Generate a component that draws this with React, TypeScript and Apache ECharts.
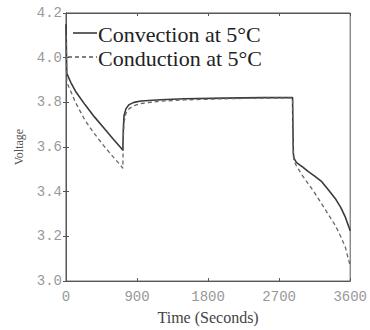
import React, { useEffect, useRef } from "react";
import * as echarts from "echarts";

const convectionTime = [0, 10, 60, 120, 240, 360, 480, 600, 700, 720, 726, 735, 760, 800, 860, 950, 1200, 1500, 2000, 2500, 2870, 2874, 2880, 2890, 2920, 3000, 3070, 3150, 3240, 3320, 3410, 3480, 3540, 3600];
const convectionVolt = [4.15, 3.93, 3.89, 3.85, 3.79, 3.735, 3.685, 3.635, 3.595, 3.585, 3.68, 3.74, 3.772, 3.79, 3.8, 3.806, 3.812, 3.816, 3.819, 3.821, 3.822, 3.7, 3.57, 3.548, 3.53, 3.51, 3.49, 3.47, 3.445, 3.41, 3.37, 3.33, 3.285, 3.225];

const conductionTime = [0, 10, 60, 120, 240, 360, 480, 600, 700, 720, 726, 735, 760, 800, 860, 950, 1200, 1500, 2000, 2500, 2870, 2874, 2880, 2890, 2920, 3000, 3070, 3150, 3240, 3320, 3410, 3480, 3540, 3575, 3600];
const conductionVolt = [4.1, 3.89, 3.85, 3.8, 3.72, 3.66, 3.605, 3.555, 3.515, 3.505, 3.64, 3.71, 3.752, 3.772, 3.785, 3.795, 3.805, 3.811, 3.816, 3.819, 3.82, 3.7, 3.56, 3.535, 3.515, 3.47, 3.435, 3.395, 3.345, 3.3, 3.25, 3.2, 3.15, 3.1, 3.07];

const xTicks = [0, 900, 1800, 2700, 3600];
const legendNames = ["Convection at 5°C", "Conduction at 5°C"];

const zip = (a: number[], b: number[]) => a.map((t, i) => [t, b[i]]);

export default function App() {
  const ref = useRef<HTMLDivElement>(null);
  useEffect(() => {
    if (!ref.current) return;
    const chart = echarts.init(ref.current, null, { renderer: "svg" });
    const axisColor = "#555";
    const labelStyle = { color: "#999", fontFamily: "Liberation Mono", fontSize: 14 };
    chart.setOption({
      animation: false,
      backgroundColor: "#fff",
      grid: { left: 66, right: 18, top: 13, bottom: 40, show: true, borderColor: axisColor, borderWidth: 1 },
      xAxis: [
        {
          type: "value", min: xTicks[0], max: xTicks[xTicks.length - 1], interval: 900,
          axisLine: { lineStyle: { color: axisColor } },
          axisTick: { inside: true, length: 3, lineStyle: { color: axisColor } },
          axisLabel: { ...labelStyle, margin: 9, formatter: (v: number) => String(v) },
          splitLine: { show: false },
          name: "Time (Seconds)", nameLocation: "middle", nameGap: 26,
          nameTextStyle: { color: "#444", fontFamily: "Liberation Serif", fontSize: 16 },
        },
        {
          type: "value", position: "top", min: 0, max: 3600, interval: 900,
          axisLine: { lineStyle: { color: axisColor } },
          axisTick: { inside: true, length: 3, lineStyle: { color: axisColor } },
          axisLabel: { show: false }, splitLine: { show: false },
        },
      ],
      yAxis: [
        {
          type: "value", min: 3.0, max: 4.2, interval: 0.2,
          axisLine: { lineStyle: { color: axisColor } },
          axisTick: { inside: true, length: 3, lineStyle: { color: axisColor } },
          axisLabel: { ...labelStyle, margin: 4, formatter: (v: number) => v.toFixed(1) },
          splitLine: { show: false },
          name: "Voltage", nameLocation: "middle", nameGap: 41, nameRotate: 90,
          nameTextStyle: { color: "#555", fontFamily: "Liberation Serif", fontSize: 12 },
        },
        {
          type: "value", position: "right", min: 3.0, max: 4.2, interval: 0.2,
          axisLine: { lineStyle: { color: axisColor } },
          axisTick: { inside: true, length: 3, lineStyle: { color: axisColor } },
          axisLabel: { show: false }, splitLine: { show: false },
        },
      ],
      series: [
        {
          name: legendNames[0], type: "line", showSymbol: false, symbol: "none",
          data: zip(convectionTime, convectionVolt),
          lineStyle: { color: "#3a3a3a", width: 1.6, type: "solid" },
        },
        {
          name: legendNames[1], type: "line", showSymbol: false, symbol: "none",
          data: zip(conductionTime, conductionVolt),
          lineStyle: { color: "#666", width: 1.3, type: [4, 3] },
        },
      ],
      graphic: [
        { type: "line", shape: { x1: 73, y1: 33, x2: 97, y2: 33 }, style: { stroke: "#3a3a3a", lineWidth: 1.6 } },
        { type: "text", x: 98, y: 34, style: { text: legendNames[0], fill: "#222", font: "22px 'Liberation Serif'", verticalAlign: "middle" } },
        { type: "line", shape: { x1: 68, y1: 57, x2: 97, y2: 57 }, style: { stroke: "#555", lineWidth: 1.3, lineDash: [4, 3] } },
        { type: "text", x: 98, y: 58, style: { text: legendNames[1], fill: "#222", font: "22px 'Liberation Serif'", verticalAlign: "middle" } },
      ],
    });
    return () => chart.dispose();
  }, []);
  return <div ref={ref} style={{ width: 370, height: 330, position: "absolute", left: 0, top: 0 }} />;
}
